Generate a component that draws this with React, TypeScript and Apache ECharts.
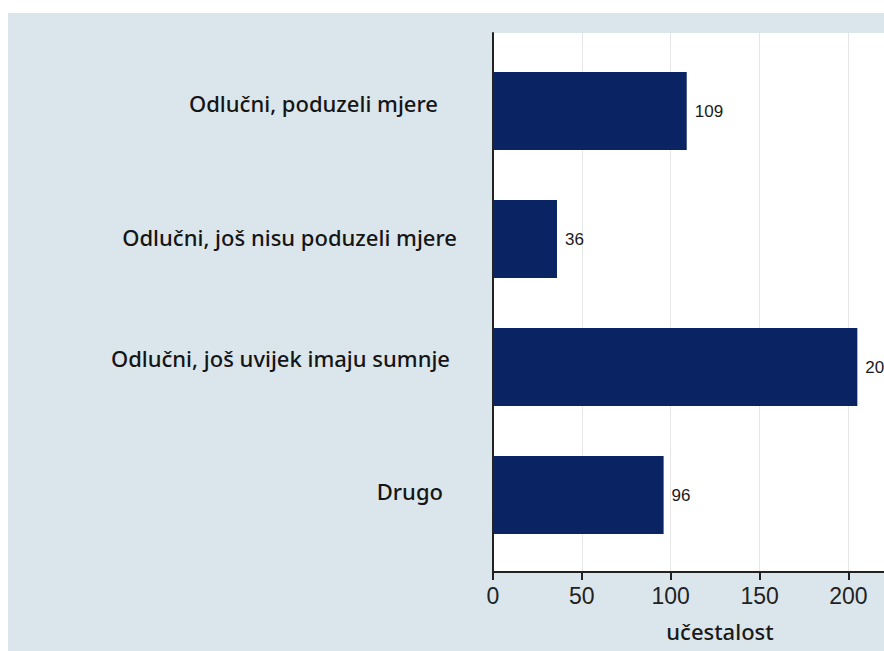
import React, { useEffect, useRef } from "react";
import * as echarts from "echarts";

const categories = [
  "Odlučni, poduzeli mjere",
  "Odlučni, još nisu poduzeli mjere",
  "Odlučni, još uvijek imaju sumnje",
  "Drugo",
];
const values = [109, 36, 205, 96];
const xTicks = [0, 50, 100, 150, 200];
const axisTitle = "učestalost";

// per-label fine placement [padRight, padBottom]
const labelPads = [
  [19, 17],
  [0, 5],
  [7, 19],
  [14, 9],
];

export default function App() {
  const ref = useRef<HTMLDivElement>(null);

  useEffect(() => {
    if (!ref.current) return;
    const chart = echarts.init(ref.current, null, { renderer: "svg" });
    const rich: Record<string, any> = {};
    labelPads.forEach((p, i) => {
      rich["l" + i] = {
        fontSize: 22,
        fontFamily: "Noto Sans",
        fontWeight: 500,
        color: "#151515",
        padding: [0, p[0], p[1], 0],
      };
    });
    chart.setOption({
      animation: false,
      backgroundColor: "#dbe6ec",
      grid: [
        {
          left: 485,
          top: 20,
          width: 391,
          height: 539,
          show: true,
          backgroundColor: "#ffffff",
          borderWidth: 0,
        },
        { left: 485, top: 34, width: 391, height: 512 },
      ],
      xAxis: [
        {
          gridIndex: 0,
          type: "value",
          min: 0,
          max: 220,
          interval: 50,
          axisLine: { show: true, lineStyle: { color: "#222", width: 2 } },
          axisTick: {
            show: true,
            length: 8,
            customValues: xTicks,
            lineStyle: { color: "#222", width: 2 },
          },
          axisLabel: {
            margin: 12,
            fontSize: 23,
            fontFamily: "Liberation Sans",
            color: "#222",
            customValues: xTicks,
          },
          splitLine: { show: true, lineStyle: { color: "#e6e6e6", width: 1 } },
          name: axisTitle,
          nameLocation: "middle",
          nameGap: 48,
          nameTextStyle: {
            fontSize: 22,
            fontFamily: "Noto Sans",
            fontWeight: 500,
            color: "#1a1a1a",
            padding: [0, 0, 0, 63],
          },
        },
        { gridIndex: 1, type: "value", min: 0, max: 220, show: false },
      ],
      yAxis: [
        {
          gridIndex: 0,
          type: "value",
          min: 0,
          max: 1,
          axisLine: { show: true, lineStyle: { color: "#222", width: 2 } },
          axisTick: { show: false },
          axisLabel: { show: false },
          splitLine: { show: false },
        },
        {
          gridIndex: 1,
          type: "category",
          inverse: true,
          data: categories,
          axisLine: { show: false },
          axisTick: { show: false },
          axisLabel: {
            margin: 36,
            formatter: (v: string, i: number) => `{l${i}|${v}}`,
            rich,
          },
        },
      ],
      series: [
        {
          type: "bar",
          xAxisIndex: 1,
          yAxisIndex: 1,
          data: values,
          barWidth: 78,
          itemStyle: { color: "#0a2463" },
          label: {
            show: true,
            position: "right",
            distance: 8,
            fontSize: 17,
            fontFamily: "Liberation Sans",
            color: "#1a1a1a",
          },
        },
      ],
    });
    return () => chart.dispose();
  }, []);

  return (
    <div
      style={{
        position: "absolute",
        left: 0,
        top: 0,
        width: 884,
        height: 651,
        background: "#ffffff",
        overflow: "hidden",
      }}
    >
      <div
        ref={ref}
        style={{ position: "absolute", left: 8, top: 13, width: 876, height: 638 }}
      />
    </div>
  );
}
